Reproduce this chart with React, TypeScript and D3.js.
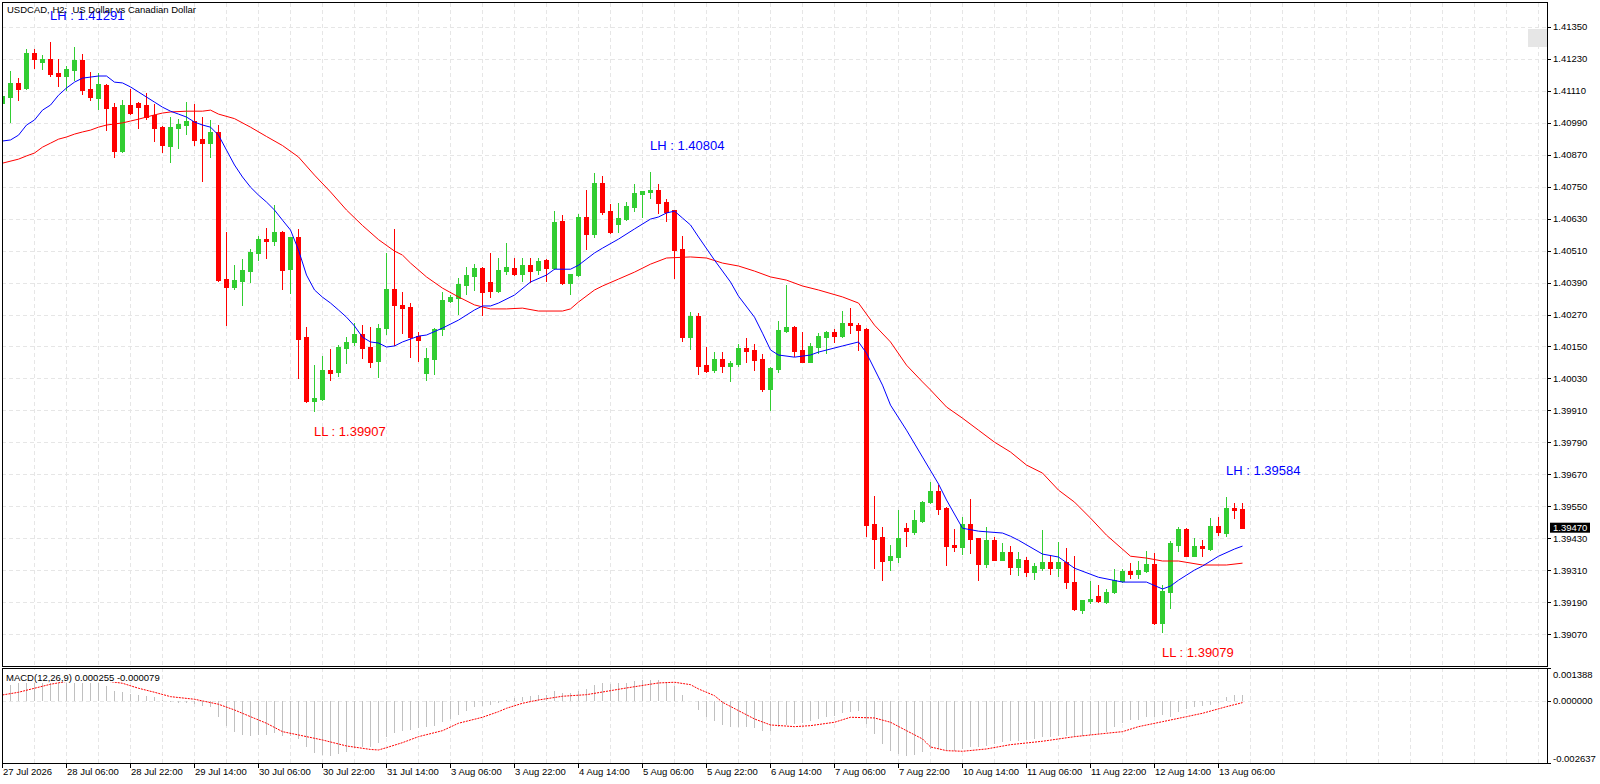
import * as d3 from 'd3';

// USDCAD H2 candles
const OPEN = [1.41065,1.41087,1.41139,1.41121,1.41251,1.41218,1.41228,1.41176,1.41165,1.41188, 1.41225,1.41116,1.41082,1.41131,1.41049,1.40884,1.41056,1.41064,1.41056,1.41019, 1.40974,1.40903,1.40971,1.40983,1.40996,1.40929,1.40915,1.40955,1.40403,1.40374, 1.40397,1.40434,1.40502,1.40553,1.40546,1.40580,1.40441,1.40561,1.40186,1.39945, 1.39953,1.40062,1.40054,1.40144,1.40167,1.40197,1.40148,1.40096,1.40219,1.40365, 1.40305,1.40298,1.40189,1.40051,1.40103,1.40216,1.40320,1.40331,1.40382,1.40415, 1.40444,1.40392,1.40358,1.40433,1.40444,1.40422,1.40456,1.40437,1.40474,1.40444, 1.40621,1.40388,1.40418,1.40636,1.40572,1.40763,1.40658,1.40609,1.40628,1.40673, 1.40723,1.40729,1.40737,1.40692,1.40662,1.40516,1.40186,1.40265,1.40081,1.40062, 1.40103,1.40077,1.40084,1.40144,1.40137,1.40103,1.39990,1.40066,1.40208,1.40223, 1.40137,1.40092,1.40148,1.40186,1.40204,1.40189,1.40238,1.40231,1.40216,1.39484, 1.39435,1.39349,1.39360,1.39469,1.39454,1.39495,1.39566,1.39608,1.39544,1.39405, 1.39398,1.39484,1.39431,1.39334,1.39424,1.39349,1.39379,1.39322,1.39349,1.39304, 1.39319,1.39341,1.39319,1.39341,1.39266,1.39161,1.39195,1.39213,1.39191,1.39229, 1.39270,1.39307,1.39296,1.39307,1.39334,1.39112,1.39229,1.39405,1.39465,1.39364, 1.39401,1.39390,1.39476,1.39450,1.39544,1.39540];
const HIGH = [1.41101,1.41184,1.41159,1.41266,1.41266,1.41243,1.41291,1.41228,1.41202,1.41274, 1.41247,1.41180,1.41176,1.41135,1.41064,1.41075,1.41116,1.41067,1.41101,1.41060, 1.40977,1.41011,1.41004,1.41067,1.41060,1.41011,1.41000,1.40981,1.40580,1.40456, 1.40478,1.40516,1.40565,1.40595,1.40681,1.40584,1.40561,1.40591,1.40224,1.40080, 1.40114,1.40141,1.40156,1.40186,1.40238,1.40231,1.40224,1.40234,1.40501,1.40591, 1.40354,1.40313,1.40204,1.40144,1.40219,1.40354,1.40343,1.40407,1.40448,1.40459, 1.40448,1.40501,1.40482,1.40538,1.40482,1.40482,1.40482,1.40482,1.40478,1.40658, 1.40643,1.40422,1.40647,1.40737,1.40801,1.40789,1.40684,1.40688,1.40692,1.40759, 1.40733,1.40804,1.40759,1.40703,1.40662,1.40565,1.40280,1.40276,1.40148,1.40129, 1.40129,1.40096,1.40159,1.40182,1.40159,1.40122,1.40073,1.40246,1.40381,1.40226, 1.40204,1.40163,1.40201,1.40208,1.40216,1.40283,1.40294,1.40238,1.40219,1.39589, 1.39473,1.39405,1.39536,1.39488,1.39536,1.39570,1.39641,1.39630,1.39547,1.39465, 1.39510,1.39578,1.39431,1.39473,1.39435,1.39413,1.39401,1.39379,1.39360,1.39337, 1.39461,1.39368,1.39416,1.39394,1.39364,1.39198,1.39270,1.39255,1.39240,1.39315, 1.39315,1.39337,1.39345,1.39383,1.39375,1.39255,1.39420,1.39473,1.39469,1.39431, 1.39424,1.39506,1.39510,1.39584,1.39562,1.39562];
const LOW = [1.41052,1.40994,1.41075,1.41118,1.41196,1.41191,1.41165,1.41129,1.41112,1.41150, 1.41099,1.41075,1.41041,1.40962,1.40862,1.40880,1.41024,1.40971,1.41004,1.40921, 1.40880,1.40843,1.40896,1.40949,1.40907,1.40771,1.40861,1.40395,1.40230,1.40365, 1.40305,1.40393,1.40474,1.40482,1.40531,1.40365,1.40350,1.40032,1.39941,1.39907, 1.39949,1.40024,1.40039,1.40088,1.40156,1.40107,1.40073,1.40036,1.40197,1.40156, 1.40201,1.40111,1.40096,1.40024,1.40047,1.40193,1.40317,1.40272,1.40347,1.40362, 1.40268,1.40335,1.40354,1.40422,1.40418,1.40396,1.40392,1.40422,1.40396,1.40441, 1.40385,1.40347,1.40414,1.40516,1.40561,1.40647,1.40577,1.40580,1.40624,1.40658, 1.40636,1.40707,1.40651,1.40621,1.40407,1.40171,1.40141,1.40047,1.40056,1.40056, 1.40056,1.40021,1.40077,1.40092,1.40062,1.39982,1.39911,1.40054,1.40204,1.40114, 1.40090,1.40090,1.40126,1.40126,1.40167,1.40186,1.40201,1.40137,1.39439,1.39318, 1.39273,1.39311,1.39341,1.39401,1.39446,1.39491,1.39562,1.39521,1.39330,1.39383, 1.39371,1.39375,1.39273,1.39322,1.39347,1.39347,1.39296,1.39292,1.39288,1.39277, 1.39311,1.39296,1.39288,1.39243,1.39161,1.39150,1.39187,1.39191,1.39187,1.39225, 1.39266,1.39281,1.39281,1.39305,1.39108,1.39079,1.39168,1.39383,1.39362,1.39362, 1.39364,1.39388,1.39442,1.39439,1.39506,1.39470];
const CLOSE = [1.41090,1.41139,1.41116,1.41251,1.41229,1.41228,1.41173,1.41165,1.41191,1.41225, 1.41114,1.41087,1.41135,1.41045,1.40884,1.41056,1.41026,1.41049,1.41011,1.40971, 1.40907,1.40974,1.40985,1.40996,1.40926,1.40915,1.40955,1.40401,1.40374,1.40399, 1.40437,1.40504,1.40553,1.40547,1.40580,1.40437,1.40561,1.40178,1.39945,1.39956, 1.40062,1.40051,1.40148,1.40167,1.40197,1.40144,1.40092,1.40219,1.40365,1.40305, 1.40294,1.40186,1.40174,1.40107,1.40216,1.40324,1.40335,1.40384,1.40418,1.40444, 1.40354,1.40358,1.40437,1.40448,1.40422,1.40456,1.40433,1.40471,1.40444,1.40617, 1.40388,1.40422,1.40636,1.40572,1.40763,1.40654,1.40580,1.40632,1.40677,1.40726, 1.40733,1.40737,1.40688,1.40654,1.40512,1.40186,1.40265,1.40077,1.40058,1.40103, 1.40077,1.40088,1.40144,1.40133,1.40099,1.39990,1.40069,1.40212,1.40223,1.40133, 1.40092,1.40152,1.40189,1.40204,1.40189,1.40238,1.40229,1.40212,1.39480,1.39428, 1.39345,1.39364,1.39431,1.39458,1.39499,1.39566,1.39608,1.39540,1.39401,1.39398, 1.39484,1.39428,1.39334,1.39424,1.39349,1.39379,1.39322,1.39352,1.39304,1.39326, 1.39341,1.39319,1.39341,1.39266,1.39165,1.39198,1.39202,1.39195,1.39229,1.39273, 1.39307,1.39296,1.39311,1.39334,1.39112,1.39232,1.39413,1.39465,1.39364,1.39401, 1.39394,1.39476,1.39454,1.39544,1.39536,1.39470];

// moving averages as [bar, price] readings
const MA_FAST: [number, number][] = [[0,1.40921],[1,1.40925],[2,1.40943],[3,1.40981],[4,1.41000],[5,1.41037],[6,1.41056],[7,1.41093],[8,1.41120],[9,1.41142],[10,1.41157],[11,1.41161],[12,1.41165],[13,1.41165],[14,1.41142],[15,1.41139],[16,1.41124],[17,1.41105],[18,1.41086],[19,1.41067],[20,1.41048],[21,1.41033],[22,1.41022],[23,1.41011],[24,1.40992],[25,1.40981],[26,1.40973],[27,1.40943],[28,1.40887],[29,1.40831],[30,1.40786],[31,1.40748],[32,1.40718],[33,1.40692],[34,1.40662],[35,1.40624],[36,1.40587],[37,1.40512],[38,1.40418],[39,1.40362],[40,1.40335],[41,1.40313],[42,1.40287],[43,1.40260],[44,1.40227],[45,1.40185],[46,1.40167],[47,1.40163],[48,1.40148],[49,1.40152],[50,1.40167],[52,1.40189],[53,1.40193],[55,1.40219],[57,1.40249],[59,1.40287],[60,1.40302],[61,1.40302],[62,1.40313],[64,1.40343],[66,1.40392],[68,1.40418],[69,1.40440],[71,1.40440],[72,1.40455],[74,1.40501],[75,1.40519],[77,1.40553],[79,1.40591],[81,1.40628],[82,1.40636],[83,1.40651],[84,1.40658],[85,1.40632],[86,1.40606],[87,1.40561],[89,1.40474],[91,1.40392],[92,1.40339],[94,1.40260],[95,1.40200],[96,1.40137],[97,1.40118],[99,1.40110],[101,1.40118],[102,1.40129],[105,1.40152],[107,1.40167],[108,1.40125],[110,1.40005],[111,1.39930],[113,1.39836],[115,1.39735],[117,1.39634],[118,1.39574],[120,1.39468],[122,1.39457],[125,1.39450],[126,1.39438],[127,1.39423],[130,1.39371],[132,1.39360],[134,1.39318],[137,1.39284],[140,1.39266],[143,1.39266],[145,1.39240],[146,1.39251],[147,1.39273],[149,1.39311],[150,1.39326],[152,1.39363],[154,1.39390],[155,1.39401]];
const MA_SLOW: [number, number][] = [[0,1.40838],[2,1.40853],[3,1.40865],[4,1.40876],[5,1.40898],[6,1.40913],[7,1.40928],[8,1.40936],[9,1.40947],[10,1.40955],[11,1.40962],[12,1.40973],[13,1.40981],[14,1.40985],[15,1.40989],[16,1.40996],[17,1.41003],[18,1.41011],[19,1.41019],[20,1.41026],[21,1.41030],[23,1.41033],[25,1.41033],[26,1.41037],[27,1.41022],[29,1.41005],[31,1.40973],[33,1.40938],[35,1.40904],[37,1.40861],[39,1.40793],[41,1.40730],[43,1.40662],[45,1.40604],[47,1.40551],[49,1.40508],[50,1.40493],[51,1.40463],[53,1.40411],[55,1.40369],[57,1.40336],[59,1.40306],[61,1.40291],[63,1.40291],[65,1.40294],[67,1.40283],[70,1.40283],[71,1.40291],[72,1.40317],[74,1.40362],[75,1.40377],[77,1.40403],[79,1.40429],[81,1.40459],[83,1.40482],[86,1.40486],[88,1.40482],[90,1.40463],[92,1.40452],[94,1.40433],[96,1.40411],[98,1.40399],[100,1.40377],[102,1.40362],[105,1.40336],[107,1.40313],[109,1.40230],[111,1.40167],[113,1.40080],[115,1.40017],[116,1.39987],[118,1.39923],[120,1.39881],[122,1.39836],[124,1.39791],[126,1.39754],[128,1.39705],[130,1.39675],[132,1.39611],[134,1.39566],[136,1.39506],[138,1.39442],[141,1.39363],[143,1.39356],[145,1.39345],[147,1.39345],[150,1.39330],[153,1.39330],[155,1.39337]];

// MACD(12,26,9): main histogram per bar, signal as [bar, value]
const MACD_MAIN = [0.000640,0.000669,0.000741,0.000754,0.000754,0.000754,0.000754,0.000754,0.000754,0.000754, 0.000754,0.000754,0.000754,0.000627,0.000415,0.000373,0.000288,0.000246,0.000203,0.000161, 0.000015,-0.000064,-0.000081,-0.000106,-0.000148,-0.000208,-0.000250,-0.000674,-0.001055,-0.001309, -0.001436,-0.001479,-0.001436,-0.001436,-0.001377,-0.001479,-0.001479,-0.001619,-0.001945,-0.002199, -0.002284,-0.002326,-0.002241,-0.002157,-0.001987,-0.001945,-0.001945,-0.001775,-0.001521,-0.001352, -0.001292,-0.001237,-0.001152,-0.001123,-0.001055,-0.000886,-0.000758,-0.000589,-0.000419,-0.000275, -0.000208,-0.000165,-0.000081,0.000034,0.000131,0.000174,0.000203,0.000246,0.000246,0.000415, 0.000343,0.000318,0.000428,0.000500,0.000682,0.000754,0.000712,0.000741,0.000767,0.000826, 0.000894,0.000881,0.000881,0.000784,0.000640,0.000246,-0.000010,-0.000390,-0.000699,-0.000843, -0.001025,-0.001097,-0.001123,-0.001123,-0.001165,-0.001267,-0.001267,-0.001097,-0.001013,-0.000983, -0.000953,-0.000843,-0.000771,-0.000699,-0.000631,-0.000530,-0.000462,-0.000419,-0.000983,-0.001407, -0.001830,-0.002114,-0.002254,-0.002326,-0.002284,-0.002182,-0.002042,-0.002042,-0.002140,-0.002114, -0.002042,-0.001970,-0.001945,-0.001902,-0.001830,-0.001758,-0.001716,-0.001691,-0.001661,-0.001619, -0.001547,-0.001521,-0.001479,-0.001479,-0.001547,-0.001479,-0.001436,-0.001407,-0.001309,-0.001097, -0.000928,-0.000814,-0.000814,-0.000674,-0.000674,-0.000602,-0.000674,-0.000462,-0.000360,-0.000275, -0.000220,-0.000178,-0.000081,0.000148,0.000246,0.000255];
const MACD_SIGNAL: [number, number][] = [[0,0.000246],[2,0.000360],[4,0.000530],[6,0.000699],[9,0.000880],[12,0.000880],[15,0.000741],[17,0.000530],[19,0.000360],[21,0.000174],[24,0.000064],[27,-0.000148],[29,-0.000390],[31,-0.000674],[33,-0.000953],[35,-0.001309],[37,-0.001449],[40,-0.001661],[43,-0.001915],[46,-0.002063],[47,-0.002085],[48,-0.001987],[50,-0.001775],[52,-0.001521],[55,-0.001267],[57,-0.000953],[60,-0.000699],[62,-0.000462],[63,-0.000318],[65,-0.000106],[67,0.000034],[70,0.000191],[73,0.000258],[76,0.000428],[78,0.000542],[82,0.000754],[84,0.000784],[86,0.000682],[87,0.000500],[89,0.000216],[90,-0.000064],[92,-0.000419],[94,-0.000771],[96,-0.001025],[99,-0.001097],[101,-0.001055],[104,-0.000911],[106,-0.000699],[109,-0.000729],[111,-0.000911],[113,-0.001267],[115,-0.001619],[116,-0.001957],[118,-0.002114],[120,-0.002140],[123,-0.002042],[126,-0.001860],[130,-0.001716],[134,-0.001521],[138,-0.001377],[140,-0.001309],[142,-0.001097],[145,-0.000886],[148,-0.000674],[150,-0.000530],[153,-0.000250],[155,-0.000079]];

const PRICE_TICKS = [1.41350,1.41230,1.41110,1.40990,1.40870,1.40750,1.40630,1.40510,1.40390,1.40270,1.40150,1.40030,1.39910,1.39790,1.39670,1.39550,1.39430,1.39310,1.39190,1.39070];
const MACD_TICKS = [0.001388, 0.0, -0.002637];
const TIME_LABELS: [number, string][] = [[0,'27 Jul 2026'],[8,'28 Jul 06:00'],[16,'28 Jul 22:00'],[24,'29 Jul 14:00'],[32,'30 Jul 06:00'],[40,'30 Jul 22:00'],[48,'31 Jul 14:00'],[56,'3 Aug 06:00'],[64,'3 Aug 22:00'],[72,'4 Aug 14:00'],[80,'5 Aug 06:00'],[88,'5 Aug 22:00'],[96,'6 Aug 14:00'],[104,'7 Aug 06:00'],[112,'7 Aug 22:00'],[120,'10 Aug 14:00'],[128,'11 Aug 06:00'],[136,'11 Aug 22:00'],[144,'12 Aug 14:00'],[152,'13 Aug 06:00']];
const SWINGS = [
  { bar: 6, kind: 'LH', price: 1.41291 },
  { bar: 39, kind: 'LL', price: 1.39907 },
  { bar: 81, kind: 'LH', price: 1.40804 },
  { bar: 145, kind: 'LL', price: 1.39079 },
  { bar: 153, kind: 'LH', price: 1.39584 },
];
const LAST_PRICE = 1.3947;

const W = 1600;
const H = 784;
const LEFT = 2;
const RIGHT = 1547;
const MAIN_TOP = 3;
const MAIN_BOTTOM = 666;
const SUB_TOP = 668;
const SUB_BOTTOM = 763;
const FONT = "'Liberation Sans', Arial, sans-serif";
const BULL = '#32cd32';
const BEAR = '#ff0000';
const GRID = '#e6e6e6';

export default function App() {
  const n = OPEN.length;
  const x = d3.scaleLinear().domain([0, n - 1]).range([2, 2 + 8 * (n - 1)]);
  const y = d3.scaleLinear().domain([1.3907, 1.4135]).range([634.3, 26.7]);
  const m = d3.scaleLinear().domain([-0.002637, 0.001388]).range([SUB_BOTTOM, SUB_TOP]);
  const px = (i: number) => Math.round(x(i)) + 0.5;

  const maLine = d3.line<[number, number]>().x((d) => px(d[0])).y((d) => y(d[1]));
  const sigLine = d3.line<[number, number]>().x((d) => px(d[0])).y((d) => m(d[1]));

  const gridX = d3.range(4, 196, 4).map((i) => Math.round(x(i)) + 0.5).filter((v) => v < RIGHT);

  return (
    <svg
      width={W}
      height={H}
      viewBox={`0 0 ${W} ${H}`}
      style={{ position: 'absolute', left: 0, top: 0, background: '#fff' }}
      fontFamily={FONT}
    >
      <defs>
        <clipPath id="clip-main">
          <rect x={LEFT + 1} y={MAIN_TOP} width={RIGHT - LEFT - 1} height={MAIN_BOTTOM - MAIN_TOP} />
        </clipPath>
        <clipPath id="clip-sub">
          <rect x={LEFT + 1} y={SUB_TOP + 1} width={RIGHT - LEFT - 1} height={SUB_BOTTOM - SUB_TOP - 1} />
        </clipPath>
      </defs>
      <rect x={0} y={0} width={W} height={H} fill="#fff" />

      {/* grid */}
      <g stroke={GRID} strokeWidth={1} strokeDasharray="4 3">
        {gridX.map((gx) => (
          <line key={'gm' + gx} x1={gx} x2={gx} y1={MAIN_TOP} y2={MAIN_BOTTOM} />
        ))}
        {gridX.map((gx) => (
          <line key={'gs' + gx} x1={gx} x2={gx} y1={SUB_TOP} y2={SUB_BOTTOM} />
        ))}
        {PRICE_TICKS.map((p) => (
          <line key={'gp' + p} x1={LEFT} x2={RIGHT} y1={Math.round(y(p)) + 0.5} y2={Math.round(y(p)) + 0.5} />
        ))}
        <line x1={LEFT} x2={RIGHT} y1={Math.round(m(0)) + 0.5} y2={Math.round(m(0)) + 0.5} />
      </g>

      {/* candles */}
      <g clipPath="url(#clip-main)">
        {OPEN.map((o, i) => {
          const c = CLOSE[i];
          const col = c >= o ? BULL : BEAR;
          const top = Math.round(y(Math.max(o, c)));
          const bot = Math.round(y(Math.min(o, c)));
          return (
            <g key={'c' + i}>
              <line x1={px(i)} x2={px(i)} y1={Math.round(y(HIGH[i]))} y2={Math.round(y(LOW[i])) + 1} stroke={col} strokeWidth={1} />
              <rect
                x={Math.round(x(i)) - 2}
                y={top}
                width={5}
                height={Math.max(1, bot - top + 1)}
                fill={col}
                shapeRendering="crispEdges"
              />
            </g>
          );
        })}
        <path d={maLine(MA_SLOW) ?? ''} fill="none" stroke="#ff0000" strokeWidth={1} />
        <path d={maLine(MA_FAST) ?? ''} fill="none" stroke="#0000ff" strokeWidth={1} />
      </g>

      {/* swing labels */}
      {SWINGS.map((s) => (
        <text
          key={s.kind + s.bar}
          x={x(s.bar)}
          y={s.kind === 'LH' ? y(s.price) - 22 : y(s.price) + 25}
          fontSize={13}
          fill={s.kind === 'LH' ? '#0000ff' : '#ff0000'}
        >
          {`${s.kind} : ${s.price.toFixed(5)}`}
        </text>
      ))}

      {/* MACD */}
      <g clipPath="url(#clip-sub)">
        {MACD_MAIN.map((v, i) => (
          <line
            key={'h' + i}
            x1={px(i)}
            x2={px(i)}
            y1={Math.round(m(0))}
            y2={Math.round(m(v))}
            stroke="#c0c0c0"
            strokeWidth={1}
          />
        ))}
        <path d={sigLine(MACD_SIGNAL) ?? ''} fill="none" stroke="#ff0000" strokeWidth={1} strokeDasharray="2 1" />
        <rect x={4} y={670} width={154} height={12} fill="#fff" />
        <text x={6} y={680.5} fontSize={9.5} fill="#000" style={{ whiteSpace: 'pre' }}>
          MACD(12,26,9) 0.000255 -0.000079
        </text>
      </g>

      {/* frames */}
      <g fill="none" stroke="#000" strokeWidth={1} shapeRendering="crispEdges">
        <rect x={LEFT + 0.5} y={MAIN_TOP - 0.5} width={RIGHT - LEFT} height={MAIN_BOTTOM - MAIN_TOP + 1} />
        <rect x={LEFT + 0.5} y={SUB_TOP + 0.5} width={RIGHT - LEFT} height={SUB_BOTTOM - SUB_TOP} />
      </g>

      {/* price axis */}
      <g fontSize={9.5} fill="#000">
        {PRICE_TICKS.map((p) => (
          <g key={'pt' + p}>
            <line x1={RIGHT} x2={RIGHT + 4} y1={Math.round(y(p)) + 0.5} y2={Math.round(y(p)) + 0.5} stroke="#000" />
            <text x={RIGHT + 6} y={y(p)} dominantBaseline="central">
              {p.toFixed(5)}
            </text>
          </g>
        ))}
      </g>
      <rect x={RIGHT + 3} y={y(LAST_PRICE) - 5} width={40} height={10} fill="#000" />
      <text x={RIGHT + 6} y={y(LAST_PRICE)} dominantBaseline="central" fontSize={9.5} fill="#fff">
        {LAST_PRICE.toFixed(5)}
      </text>
      <rect x={1528} y={29} width={19} height={18} fill="#e6e6e6" />

      {/* MACD axis */}
      <g fontSize={9.5} fill="#000">
        {MACD_TICKS.map((v, i) => {
          const ty = i === 0 ? SUB_TOP + 6 : i === 2 ? SUB_BOTTOM - 5 : m(v);
          return (
            <g key={'mt' + i}>
              <line x1={RIGHT} x2={RIGHT + 4} y1={Math.round(m(v)) + 0.5} y2={Math.round(m(v)) + 0.5} stroke="#000" />
              <text x={RIGHT + 6} y={ty} dominantBaseline="central">
                {v.toFixed(6)}
              </text>
            </g>
          );
        })}
      </g>

      {/* time axis */}
      <g fontSize={9.5} fill="#000">
        {TIME_LABELS.map(([b, label]) => (
          <g key={'tl' + b}>
            <line x1={px(b)} x2={px(b)} y1={SUB_BOTTOM} y2={SUB_BOTTOM + 5} stroke="#000" />
            <text x={x(b) + 1} y={775}>
              {label}
            </text>
          </g>
        ))}
      </g>

      {/* title */}
      <text x={7} y={12.5} fontSize={9.5} fill="#000" style={{ whiteSpace: 'pre' }}>
        {'USDCAD, H2:  US Dollar vs Canadian Dollar'}
      </text>
    </svg>
  );
}
